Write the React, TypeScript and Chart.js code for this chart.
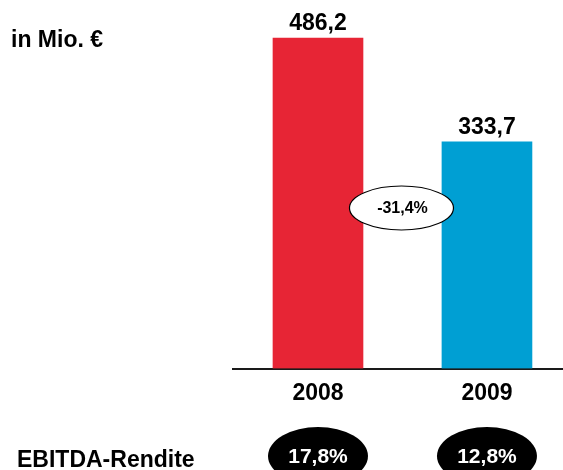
import React, { useEffect, useRef } from 'react';
import { Chart, registerables } from 'chart.js';

Chart.register(...registerables);

const categories = ['2008', '2009'];
const values = [486.2, 333.7];
const barColors = ['#E72535', '#009FD3'];
const ebitdaMargins = ['17,8%', '12,8%'];
const unitLabel = 'in Mio. €';
const rowLabel = 'EBITDA-Rendite';

const FONT = '"Liberation Sans", Arial, Helvetica, sans-serif';
const fmt = (v: number) => v.toFixed(1).replace('.', ',');

export default function App() {
  const ref = useRef<HTMLCanvasElement>(null);

  useEffect(() => {
    const canvas = ref.current;
    if (!canvas) return;

    const changeLabel = fmt(((values[1] / values[0]) - 1) * 100) + '%';

    const annot = {
      id: 'annot',
      afterDraw(chart: any) {
        const ctx = chart.ctx as CanvasRenderingContext2D;
        const meta = chart.getDatasetMeta(0);
        ctx.save();
        // value labels
        ctx.fillStyle = '#000';
        ctx.font = `bold 23px ${FONT}`;
        ctx.textAlign = 'center';
        ctx.textBaseline = 'alphabetic';
        meta.data.forEach((bar: any, i: number) => {
          ctx.fillText(fmt(values[i]), bar.x, bar.y - 8);
        });
        // change ellipse
        const cx = (meta.data[0].x + meta.data[1].x) / 2 - 1;
        const cy = 208;
        ctx.beginPath();
        ctx.ellipse(cx, cy, 52, 22, 0, 0, Math.PI * 2);
        ctx.fillStyle = '#fff';
        ctx.fill();
        ctx.lineWidth = 1.2;
        ctx.strokeStyle = '#000';
        ctx.stroke();
        ctx.fillStyle = '#000';
        ctx.font = `bold 16px ${FONT}`;
        ctx.textBaseline = 'middle';
        ctx.fillText(changeLabel, cx + 1, cy + 1);
        // unit + row labels
        ctx.textAlign = 'left';
        ctx.textBaseline = 'alphabetic';
        ctx.font = `bold 23px ${FONT}`;
        ctx.fillText(unitLabel, 11, 47);
        ctx.fillText(rowLabel, 17, 467);
        // EBITDA margin ellipses
        meta.data.forEach((bar: any, i: number) => {
          ctx.beginPath();
          ctx.ellipse(bar.x, 456, 50, 29, 0, 0, Math.PI * 2);
          ctx.fillStyle = '#000';
          ctx.fill();
          ctx.fillStyle = '#fff';
          ctx.textAlign = 'center';
          ctx.font = `bold 21px ${FONT}`;
          ctx.fillText(ebitdaMargins[i], bar.x, 463);
        });
        ctx.restore();
      },
    };

    const chart = new Chart(canvas, {
      type: 'bar',
      data: {
        datasets: [
          {
            data: values.map((v, i) => ({ x: i, y: v })),
            backgroundColor: barColors,
            borderWidth: 0,
            barThickness: 90,
          },
        ],
      },
      options: {
        responsive: false,
        animation: false,
        devicePixelRatio: 1,
        layout: { padding: { left: 233, right: 0, top: 0, bottom: 0 } },
        plugins: { legend: { display: false }, tooltip: { enabled: false } },
        scales: {
          x: {
            type: 'linear',
            min: -0.503,
            max: 1.45,
            offset: false,
            z: 1,
            grid: { display: false, drawTicks: false },
            border: { display: true, color: '#1a1a1a', width: 2 },
            afterBuildTicks: (s: any) => {
              s.ticks = categories.map((_, i) => ({ value: i }));
            },
            afterFit: (s: any) => {
              s.height = 101.5;
            },
            ticks: {
              callback: (v: any) => categories[v as number] ?? '',
              font: { family: FONT, size: 23, weight: 'bold' },
              color: '#000',
              padding: 11,
              maxRotation: 0,
              autoSkip: false,
            },
          },
          y: { display: false, min: 0, max: 542.4 },
        },
      } as any,
      plugins: [annot],
    });

    return () => chart.destroy();
  }, []);

  return (
    <div style={{ position: 'fixed', left: 0, top: 0, width: 563, height: 470, background: '#fff' }}>
      <canvas ref={ref} width={563} height={470} style={{ display: 'block', width: 563, height: 470 }} />
    </div>
  );
}
